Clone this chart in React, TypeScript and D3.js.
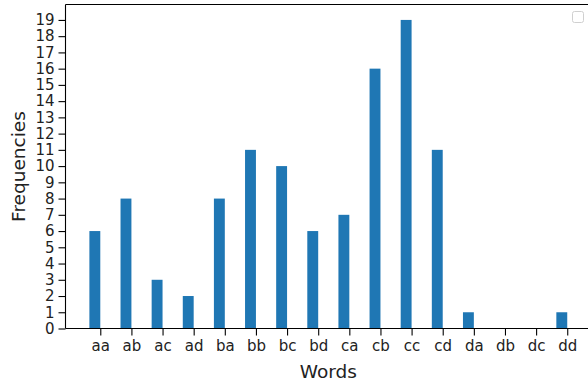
import React from 'react'
import * as d3 from 'd3'

const words = ['aa', 'ab', 'ac', 'ad', 'ba', 'bb', 'bc', 'bd', 'ca', 'cb', 'cc', 'cd', 'da', 'db', 'dc', 'dd']
const frequencies = [6, 8, 3, 2, 8, 11, 10, 6, 7, 16, 19, 11, 1, 0, 0, 1]
const yTicks = d3.range(0, 20)

const App = () => {
    const svgRef = React.useRef<SVGSVGElement>(null)

    React.useEffect(() => {
        const width = 588
        const height = 387
        const svg = d3.select(svgRef.current)
        svg.selectAll('*').remove()

        const left = 65.5
        const bottom = 328.5
        const top = 4.5
        const barWidth = 0.35
        const n = words.length

        // matplotlib-like margins (5%) around the bar extents
        const xMin = -barWidth
        const xMax = n - 1
        const pad = (xMax - xMin) * 0.05
        const xScale = d3
            .scaleLinear()
            .domain([xMin - pad, xMax + pad])
            .range([left, left + 31.13 * (xMax - xMin + 2 * pad)])

        const yScale = d3
            .scaleLinear()
            .domain([0, d3.max(frequencies)! * 1.05])
            .range([bottom, top])

        const font = 'DejaVu Sans, sans-serif'

        // bars
        svg.append('g')
            .selectAll('rect')
            .data(frequencies)
            .enter()
            .append('rect')
            .attr('x', (d, i) => xScale(i - barWidth))
            .attr('width', xScale(barWidth) - xScale(0))
            .attr('y', (d) => yScale(d))
            .attr('height', (d) => yScale(0) - yScale(d))
            .attr('fill', '#1f77b4')

        // y axis
        const yAxis = svg
            .append('g')
            .attr('transform', `translate(${left},0)`)
            .call(d3.axisLeft(yScale).tickValues(yTicks).tickFormat(d3.format('d')).tickSize(7).tickPadding(4))
        yAxis.select('.domain').remove()
        yAxis.selectAll('line').attr('stroke', '#000').attr('stroke-width', 1.1)
        yAxis.selectAll('text').attr('font-family', font).attr('font-size', 15).attr('fill', '#222')

        // x axis
        const xAxis = svg
            .append('g')
            .attr('transform', `translate(0,${bottom})`)
            .call(
                d3.axisBottom(xScale)
                    .tickValues(d3.range(n))
                    .tickFormat((d) => words[d as number])
                    .tickSize(7)
                    .tickPadding(5)
            )
        xAxis.select('.domain').remove()
        xAxis.selectAll('line').attr('stroke', '#000').attr('stroke-width', 1.1)
        xAxis.selectAll('text').attr('font-family', font).attr('font-size', 15).attr('fill', '#222')

        // spines
        const right = xScale.range()[1]
        svg.append('line').attr('x1', left).attr('x2', left).attr('y1', top).attr('y2', bottom)
            .attr('stroke', '#000').attr('stroke-width', 1.1)
        svg.append('line').attr('x1', left).attr('x2', right).attr('y1', bottom).attr('y2', bottom)
            .attr('stroke', '#000').attr('stroke-width', 1.1)
        svg.append('line').attr('x1', left).attr('x2', right).attr('y1', top).attr('y2', top)
            .attr('stroke', '#000').attr('stroke-width', 1.1)

        // empty legend box
        svg.append('rect')
            .attr('x', 572.5).attr('y', 11.5).attr('width', 11).attr('height', 11).attr('rx', 2)
            .attr('fill', '#fff').attr('stroke', '#d0d0d0').attr('stroke-width', 1)

        // axis labels
        svg.append('text')
            .attr('x', (left + right) / 2)
            .attr('y', 378)
            .attr('text-anchor', 'middle')
            .attr('font-family', font)
            .attr('font-size', 18.5)
            .attr('fill', '#222')
            .text('Words')

        svg.append('text')
            .attr('transform', `translate(25,${(top + bottom) / 2}) rotate(-90)`)
            .attr('text-anchor', 'middle')
            .attr('font-family', font)
            .attr('font-size', 18.5)
            .attr('fill', '#222')
            .text('Frequencies')

        svg.attr('width', width).attr('height', height)
    }, [])

    return (
        <div style={{ position: 'fixed', left: 0, top: 0, width: 588, height: 387, background: '#fff', overflow: 'hidden' }}>
            <svg ref={svgRef} width={588} height={387} style={{ display: 'block' }}></svg>
        </div>
    )
}

export default App
